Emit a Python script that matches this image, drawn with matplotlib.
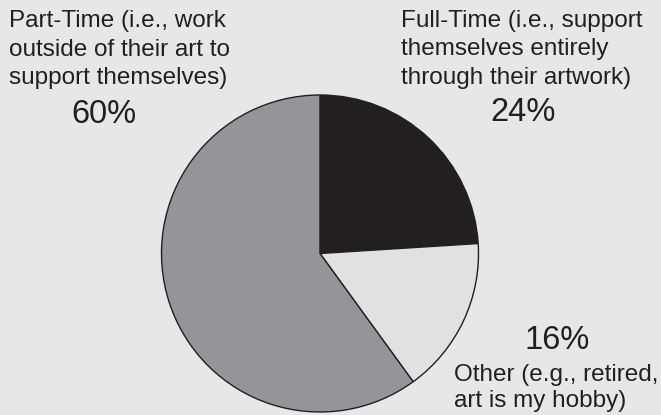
import matplotlib
matplotlib.use("Agg")
import matplotlib.pyplot as plt

categories = ["Full-Time (i.e., support\nthemselves entirely\nthrough their artwork)",
              "Other (e.g., retired,\nart is my hobby)",
              "Part-Time (i.e., work\noutside of their art to\nsupport themselves)"]
values = [24, 16, 60]
pct_labels = ["24%", "16%", "60%"]
colors = ["#231f20", "#e0e1e3", "#939598"]

W, H = 661, 415
bg = "#e6e7e8"
plt.rcParams['font.family'] = ['Liberation Sans', 'DejaVu Sans']

fig = plt.figure(figsize=(W / 100, H / 100), dpi=100, facecolor=bg)
ax = fig.add_axes([0, 0, 1, 1])
ax.set_facecolor(bg)

cx, cy, r = 320, 253.5, 158.5
ax.pie(values, colors=colors, startangle=90, counterclock=False,
       center=(cx, H - cy), radius=r,
       wedgeprops=dict(edgecolor="#231f20", linewidth=1.0))
ax.set_xlim(0, W)
ax.set_ylim(0, H)
ax.set_aspect('equal')
ax.axis('off')

# label layout: (x, first baseline y, line step, ha) ; pct: (x, baseline y)
label_pos = [(401, 27, 28.5, 'left'), (454, 381, 26, 'left'), (9, 27, 28.5, 'left')]
pct_pos = [(523, 121), (557, 349), (104, 123)]
label_fs = 17.5
pct_fs = 23.5
txtcol = "#231f20"

for lab, (x, y0, step, ha) in zip(categories, label_pos):
    for i, line in enumerate(lab.split("\n")):
        ax.text(x, H - (y0 + i * step), line, ha=ha, va='baseline',
                fontsize=label_fs, color=txtcol)
for p, (x, y) in zip(pct_labels, pct_pos):
    ax.text(x, H - y, p, ha='center', va='baseline', fontsize=pct_fs, color=txtcol)

fig.savefig("out.png", dpi=100, facecolor=bg)
